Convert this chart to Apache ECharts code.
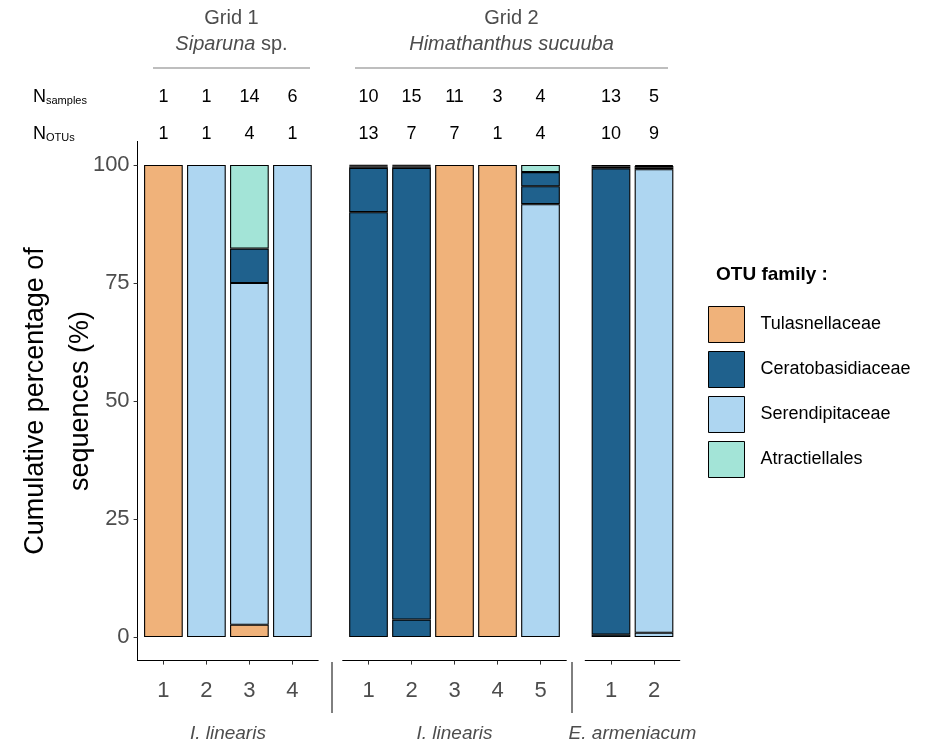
<!DOCTYPE html>
<html><head><meta charset="utf-8">
<script src="https://cdn.jsdelivr.net/npm/echarts@6/dist/echarts.min.js"></script>
<style>html,body{margin:0;padding:0;background:#fff}#c{width:925px;height:747px}</style>
</head><body><div id="c"></div><script>
// ---------- data ----------
const families = ['Tulasnellaceae', 'Ceratobasidiaceae', 'Serendipitaceae', 'Atractiellales'];
const familyColors = ['#F0B27A', '#1F618D', '#AED6F1', '#A3E4D7'];
const panelSizes = [4, 5, 2];
const barLabels = [['1', '2', '3', '4'], ['1', '2', '3', '4', '5'], ['1', '2']];
const hostNames = ['I. linearis', 'I. linearis', 'E. armeniacum'];
const nSamples = [[1, 1, 14, 6], [10, 15, 11, 3, 4], [13, 5]];
const nOTUs = [[1, 1, 4, 1], [13, 7, 7, 1, 4], [10, 9]];
const yTicks = [0, 25, 50, 75, 100];
// OTU segments stacked from the bottom, one entry per bar (11 bars, panels in order)
// family index: 0 Tulasnellaceae, 1 Ceratobasidiaceae, 2 Serendipitaceae, 3 Atractiellales
const layer1Values = [100, 100, 2.6, 100, 90, 3.7, 100, 100, 91.7, 0.5, 0.9];
const layer1Family = [0, 2, 0, 2, 1, 1, 0, 0, 2, 1, 2];
const layer2Values = [null, null, 72.4, null, 9.4, 95.7, null, null, 3.8, 98.8, 98.2];
const layer2Family = [null, null, 2, null, 1, 1, null, null, 1, 1, 2];
const layer3Values = [null, null, 7.3, null, 0.3, 0.3, null, null, 3.0, 0.4, 0.4];
const layer3Family = [null, null, 1, null, 1, 1, null, null, 1, 1, 1];
const layer4Values = [null, null, 17.7, null, 0.2, 0.2, null, null, 1.5, 0.3, 0.3];
const layer4Family = [null, null, 3, null, 1, 1, null, null, 3, 1, 1];
const layer5Values = [null, null, null, null, 0.1, 0.1, null, null, null, null, 0.2];
const layer5Family = [null, null, null, null, 1, 1, null, null, null, null, 1];
const layers = [
  [layer1Values, layer1Family], [layer2Values, layer2Family], [layer3Values, layer3Family],
  [layer4Values, layer4Family], [layer5Values, layer5Family]
];

// ---------- layout ----------
const BAND = 43;
const panelLeft = [137.6, 342.7, 585.2];
const gridTop = 141.4, gridHeight = 519.2;
const FONT = 'Liberation Sans, Arial, Helvetica, sans-serif';
const axisGrey = '#4D4D4D';

const grids = [], xAxes = [], yAxes = [], series = [];
panelSizes.forEach((n, p) => {
  grids.push({left: panelLeft[p], width: (n + 0.2) * BAND, top: gridTop, height: gridHeight,
    containLabel: false, outerBoundsMode: 'none'});
});
panelSizes.forEach((n, p) => {
  grids.push({left: panelLeft[p] + 0.1 * BAND, width: n * BAND, top: gridTop, height: gridHeight,
    containLabel: false, outerBoundsMode: 'none'});
});
const idx = n => Array.from({length: n}, (_, i) => i + 1);

panelSizes.forEach((n, p) => {
  xAxes.push({
    type: 'value', gridIndex: p, min: 0.4, max: n + 0.6, position: 'bottom',
    axisLine: {show: true, onZero: false, lineStyle: {color: '#000', width: 1}},
    axisTick: {show: true, customValues: idx(n), length: 4, lineStyle: {color: '#333'}},
    axisLabel: {customValues: idx(n), formatter: v => barLabels[p][Math.round(v) - 1],
      fontSize: 22, color: axisGrey, margin: 19, fontFamily: FONT},
    splitLine: {show: false},
    name: hostNames[p], nameLocation: 'middle', nameGap: 64, nameMoveOverlap: false,
    nameTextStyle: {fontStyle: 'italic', fontSize: 19, color: axisGrey, fontFamily: FONT}
  });
});
panelSizes.forEach((n, p) => {
  xAxes.push({type: 'category', gridIndex: 3 + p, data: barLabels[p], show: false});
});
[nOTUs, nSamples].forEach((arr, r) => {
  panelSizes.forEach((n, p) => {
    xAxes.push({
      type: 'value', gridIndex: p, min: 0.4, max: n + 0.6, position: 'top', offset: r === 0 ? 0 : 37,
      axisLine: {show: false}, axisTick: {show: false}, splitLine: {show: false},
      axisLabel: {customValues: idx(n), formatter: v => String(arr[p][Math.round(v) - 1]),
        fontSize: 18, color: '#000', margin: -2, fontFamily: FONT}
    });
  });
});
panelSizes.forEach((n, p) => {
  if (p === 0) {
    yAxes.push({
      type: 'value', gridIndex: 0, min: -5, max: 105,
      axisLine: {show: true, onZero: false, lineStyle: {color: '#000', width: 1}},
      axisTick: {show: true, customValues: yTicks, length: 4, lineStyle: {color: '#333'}},
      axisLabel: {customValues: yTicks, fontSize: 22, color: axisGrey, margin: 8, fontFamily: FONT},
      splitLine: {show: false},
      name: 'Cumulative percentage of\nsequences (%)', nameLocation: 'middle', nameRotate: 90, nameGap: 35,
      nameMoveOverlap: false,
      nameTextStyle: {fontSize: 27, color: '#000', lineHeight: 45, fontFamily: FONT}
    });
  } else {
    yAxes.push({type: 'value', gridIndex: p, min: -5, max: 105, show: false, splitLine: {show: false}});
  }
});
panelSizes.forEach((n, p) => {
  yAxes.push({type: 'value', gridIndex: 3 + p, min: -5, max: 105, show: false, splitLine: {show: false}});
});

let start = 0;
panelSizes.forEach((n, p) => {
  layers.forEach(([vals, fams], L) => {
    const data = [];
    for (let i = 0; i < n; i++) {
      const v = vals[start + i];
      if (v === null) { data.push('-'); continue; }
      data.push({value: v, itemStyle: {color: familyColors[fams[start + i]]}});
    }
    series.push({
      type: 'bar', name: 'p' + p + 'l' + L, xAxisIndex: 3 + p, yAxisIndex: 3 + p,
      stack: 'panel' + p, barWidth: 0.9 * BAND, data,
      itemStyle: {borderColor: '#000', borderWidth: 1.1}, silent: true
    });
  });
  start += n;
});
families.forEach((f, k) => {
  series.push({type: 'bar', name: f, xAxisIndex: 3, yAxisIndex: 3, stack: 'panel0', data: [],
    itemStyle: {color: familyColors[k], borderColor: '#000', borderWidth: 1}});
});

const graphic = [
  {type: 'text', x: 231.5, y: 18, style: {text: 'Grid 1', fill: axisGrey, font: '20px ' + FONT, align: 'center', verticalAlign: 'middle'}},
  {type: 'text', x: 231.5, y: 44, style: {text: '{i|Siparuna}{n| sp.}', align: 'center', verticalAlign: 'middle',
    rich: {i: {fontStyle: 'italic', fontSize: 20, fill: axisGrey, fontFamily: FONT}, n: {fontSize: 20, fill: axisGrey, fontFamily: FONT}}}},
  {type: 'line', shape: {x1: 153, y1: 68, x2: 310, y2: 68}, style: {stroke: '#7F7F7F', lineWidth: 1.2}},
  {type: 'text', x: 511.5, y: 18, style: {text: 'Grid 2', fill: axisGrey, font: '20px ' + FONT, align: 'center', verticalAlign: 'middle'}},
  {type: 'text', x: 511.5, y: 44, style: {text: 'Himathanthus sucuuba', fill: axisGrey, font: 'italic 20px ' + FONT, align: 'center', verticalAlign: 'middle'}},
  {type: 'line', shape: {x1: 355, y1: 68, x2: 668, y2: 68}, style: {stroke: '#7F7F7F', lineWidth: 1.2}},
  {type: 'text', x: 33, y: 97, style: {text: '{n|N}{s|samples}', verticalAlign: 'middle',
    rich: {n: {fontSize: 18, lineHeight: 18, verticalAlign: 'bottom', fill: '#000', fontFamily: FONT},
           s: {fontSize: 11, lineHeight: 11, verticalAlign: 'bottom', fill: '#000', fontFamily: FONT}}}},
  {type: 'text', x: 33, y: 134, style: {text: '{n|N}{s|OTUs}', verticalAlign: 'middle',
    rich: {n: {fontSize: 18, lineHeight: 18, verticalAlign: 'bottom', fill: '#000', fontFamily: FONT},
           s: {fontSize: 11, lineHeight: 11, verticalAlign: 'bottom', fill: '#000', fontFamily: FONT}}}},
  {type: 'line', shape: {x1: 332, y1: 662, x2: 332, y2: 713}, style: {stroke: '#000', lineWidth: 1}},
  {type: 'line', shape: {x1: 572, y1: 662, x2: 572, y2: 713}, style: {stroke: '#000', lineWidth: 1}},
  {type: 'text', x: 716, y: 275, style: {text: 'OTU family :', fill: '#000', font: 'bold 19px ' + FONT, verticalAlign: 'middle'}}
];

const chart = echarts.init(document.getElementById('c'), null, {renderer: 'canvas'});
chart.setOption({
  animation: false,
  backgroundColor: '#fff',
  textStyle: {fontFamily: FONT},
  grid: grids, xAxis: xAxes, yAxis: yAxes, series,
  legend: {
    data: families, orient: 'vertical', left: 708, top: 306, padding: 0,
    itemWidth: 36, itemHeight: 36, itemGap: 8, icon: 'rect', selectedMode: false,
    itemStyle: {borderColor: '#000', borderWidth: 1},
    textStyle: {fontSize: 18, color: '#000', padding: [0, 0, 0, 11], fontFamily: FONT}
  },
  graphic
});
</script></body></html>
